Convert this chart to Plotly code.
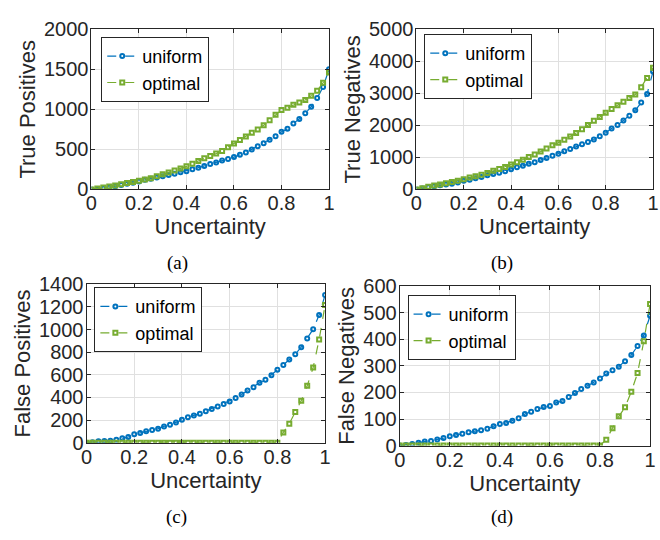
import plotly.graph_objects as go

x_vals = [round(i * 0.025, 3) for i in range(41)]

tp_uniform = [0, 4, 12, 24, 40, 56, 72, 84, 100, 120, 132, 148, 164, 180, 196, 216, 228, 252, 272, 292,
              316, 336, 360, 380, 404, 432, 460, 500, 540, 576, 620, 664, 720, 756, 824, 880, 952, 1032,
              1140, 1280, 1500]
tp_optimal = [0, 12, 24, 36, 48, 64, 80, 92, 108, 124, 140, 164, 188, 212, 236, 260, 288, 320, 356, 388,
              416, 448, 480, 528, 572, 616, 660, 708, 748, 800, 864, 932, 992, 1020, 1056, 1084, 1116,
              1168, 1232, 1332, 1460]

tn_uniform = [0, 30, 70, 100, 130, 150, 180, 220, 270, 300, 350, 390, 440, 480, 520, 570, 630, 690, 740,
              800, 850, 920, 980, 1050, 1110, 1190, 1260, 1340, 1410, 1480, 1560, 1660, 1770, 1900, 2010,
              2150, 2300, 2470, 2710, 2980, 3680]
tn_optimal = [0, 40, 80, 120, 150, 190, 230, 270, 320, 370, 410, 460, 510, 580, 640, 700, 780, 850, 930,
              1010, 1090, 1180, 1280, 1380, 1460, 1550, 1650, 1760, 1880, 2010, 2140, 2260, 2390, 2510,
              2630, 2740, 2850, 2960, 3190, 3480, 3800]

fp_uniform = [0, 3, 12, 15, 18, 26, 38, 50, 74, 85, 100, 112, 124, 144, 159, 179, 203, 224, 241, 256,
              279, 297, 321, 341, 365, 394, 426, 462, 491, 529, 556, 597, 644, 688, 735, 782, 844, 921,
              1003, 1130, 1306]
fp_optimal = [0] * 33 + [91, 168, 271, 371, 503, 665, 912, 1218]

fn_uniform = [0, 2, 6, 11, 15, 17, 23, 28, 35, 40, 44, 50, 54, 58, 63, 73, 81, 85, 93, 103, 119, 127,
              138, 145, 149, 162, 168, 183, 198, 213, 225, 238, 253, 271, 284, 297, 318, 341, 375, 415,
              489]
fn_optimal = [0] * 33 + [22, 65, 110, 144, 203, 273, 393, 533]

panels = [
    ("True Positives", tp_uniform, tp_optimal, [0, 2000], [0, 500, 1000, 1500, 2000]),
    ("True Negatives", tn_uniform, tn_optimal, [0, 5000], [0, 1000, 2000, 3000, 4000, 5000]),
    ("False Positives", fp_uniform, fp_optimal, [0, 1400], [0, 200, 400, 600, 800, 1000, 1200, 1400]),
    ("False Negatives", fn_uniform, fn_optimal, [0, 600], [0, 100, 200, 300, 400, 500, 600]),
]
captions = ["(a)", "(b)", "(c)", "(d)"]
x_ticks = [0, 0.2, 0.4, 0.6, 0.8, 1]
x_ticklabels = ["0", "0.2", "0.4", "0.6", "0.8", "1"]

W, H = 660, 540
# plot-area pixel boxes: left, right, top, bottom
boxes = [(87, 329, 19, 186), (418, 659, 19, 186), (82, 325, 285, 450), (401, 656, 287, 453)]
legend_pos = [(97, 27), (426, 24), (90, 288), (409, 296)]
caption_pos = [(175, 263), (505, 263), (174, 528), (505, 528)]

BLUE = "#0072BD"
GREEN = "#77AC30"
AX = "#262626"
FONT = "Liberation Sans, Arial, sans-serif"

fig = go.Figure()
layout = dict(width=W, height=H, margin=dict(l=0, r=0, t=0, b=0),
              paper_bgcolor="white", plot_bgcolor="white", showlegend=True,
              font=dict(family=FONT, color=AX))

for i, (title, uni, opt, yr, yt) in enumerate(panels):
    n = i + 1
    xa = "x" if n == 1 else f"x{n}"
    ya = "y" if n == 1 else f"y{n}"
    lg = "legend" if n == 1 else f"legend{n}"
    fig.add_trace(go.Scatter(x=x_vals, y=uni, name="uniform", mode="lines+markers",
                             xaxis=xa, yaxis=ya, legend=lg,
                             line=dict(color=BLUE, width=1.2, dash="dash"),
                             marker=dict(symbol="circle-open", size=4, color=BLUE, line=dict(width=2))))
    fig.add_trace(go.Scatter(x=x_vals, y=opt, name="optimal", mode="lines+markers",
                             xaxis=xa, yaxis=ya, legend=lg,
                             line=dict(color=GREEN, width=1.2, dash="dash"),
                             marker=dict(symbol="square-open", size=4, color=GREEN, line=dict(width=2))))
    l, r, t, b = boxes[i]
    axcommon = dict(showline=True, linecolor=AX, linewidth=1, mirror="ticks", ticks="inside",
                    ticklen=4, tickcolor=AX, showgrid=True, gridcolor="#e0e0e0", gridwidth=1,
                    zeroline=False, tickfont=dict(size=20, color=AX, family=FONT))
    xkey = "xaxis" if n == 1 else f"xaxis{n}"
    ykey = "yaxis" if n == 1 else f"yaxis{n}"
    layout[xkey] = dict(domain=[l / W, r / W], anchor=ya, range=[0, 1], tickvals=x_ticks,
                        ticktext=x_ticklabels, ticklabelstandoff=-4,
                        title=dict(text="Uncertainty", font=dict(size=22, color=AX, family=FONT), standoff=0),
                        **axcommon)
    layout[ykey] = dict(domain=[1 - b / H, 1 - t / H], anchor=xa, range=yr, tickvals=yt,
                        ticklabelstandoff=-2,
                        title=dict(text=title, font=dict(size=22, color=AX, family=FONT), standoff=2),
                        **axcommon)
    lx, ly = legend_pos[i]
    layout[lg] = dict(x=lx / W, y=1 - ly / H, xanchor="left", yanchor="top",
                      bgcolor="white", bordercolor=AX, borderwidth=1,
                      font=dict(size=18, color="black", family=FONT),
                      tracegroupgap=0, itemwidth=30)

annotations = []
for cap, (cx, cy) in zip(captions, caption_pos):
    annotations.append(dict(text=cap, x=cx / W, y=1 - cy / H, xref="paper", yref="paper",
                            showarrow=False, xanchor="center", yanchor="middle",
                            font=dict(family="Liberation Serif, Times New Roman, serif", size=19, color="black")))
layout["annotations"] = annotations

fig.update_layout(**layout)
fig.write_html("out.html")
